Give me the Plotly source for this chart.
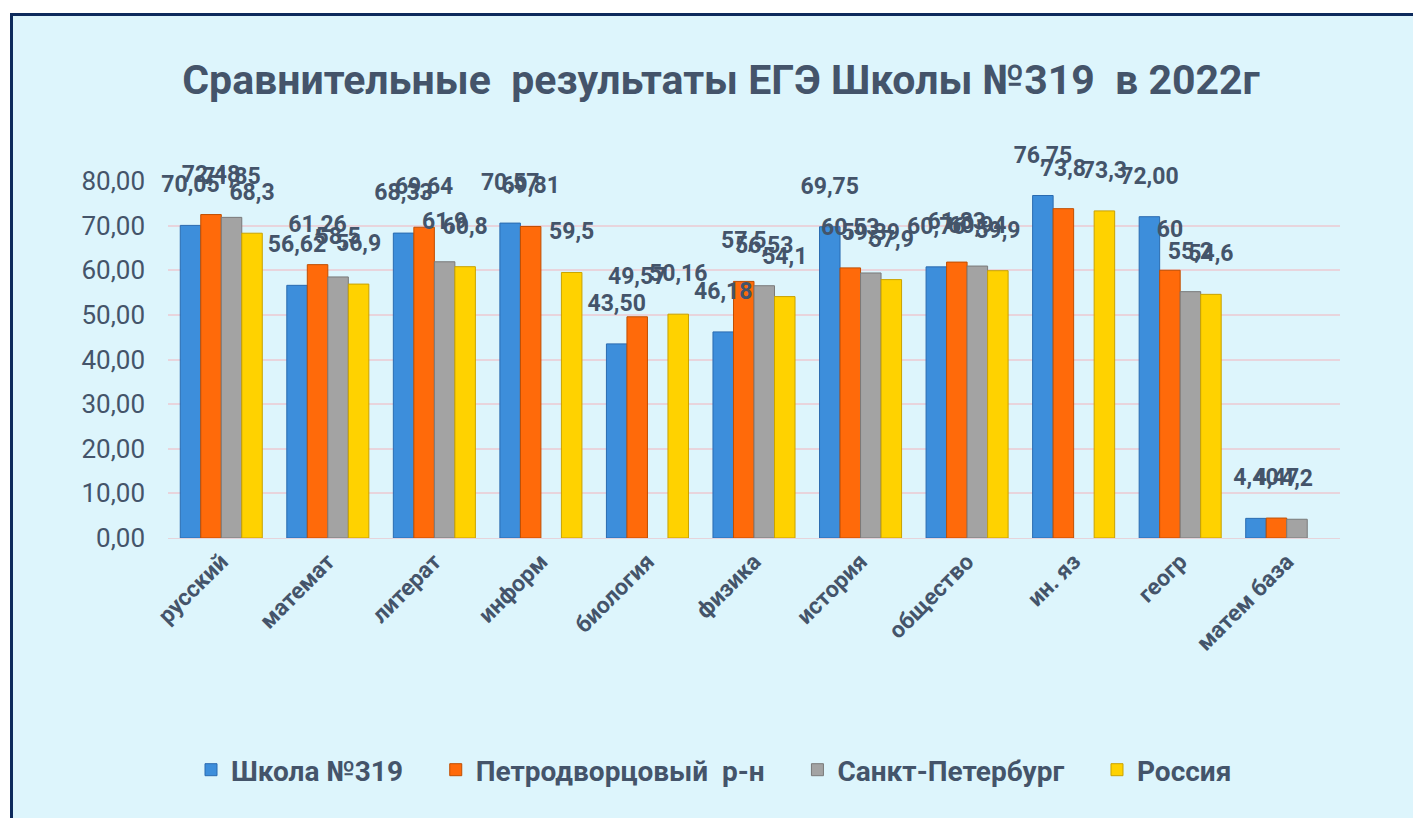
import plotly.graph_objects as go

categories = ["русский", "математ", "литерат", "информ", "биология", "физика",
              "история", "общество", "ин. яз", "геогр", "матем база"]
school = [70.05, 56.62, 68.33, 70.57, 43.50, 46.18, 69.75, 60.76, 76.75, 72.00, 4.40]
district = [72.48, 61.26, 69.64, 69.81, 49.57, 57.50, 60.53, 61.83, 73.8, 60, 4.47]
spb = [71.85, 58.5, 61.9, None, None, 56.53, 59.39, 60.94, None, 55.2, 4.2]
russia = [68.3, 56.9, 60.8, 59.5, 50.16, 54.1, 57.9, 59.9, 73.3, 54.6, None]

series_names = ["Школа №319", "Петродворцовый  р-н", "Санкт-Петербург", "Россия"]
series_values = [school, district, spb, russia]
series_colors = ["#3D8EDB", "#FF6A0A", "#A3A3A3", "#FFD200"]
series_lines = ["#2A6BB0", "#C04E00", "#7A7A7A", "#C9A200"]
series_fmt = ["%{y:.2f}", "%{y:.2~f}", "%{y:.2~f}", "%{y:.2~f}"]

TEXT = "#44546A"
FONT = "Roboto"

# page shows the figure offset by the body margin (8 px)
OFF = 8
W, H = 1421, 818
ml = 168 - OFF
mt = 181 - OFF
mr = W - (1340 - OFF)
mb = H - (538 - OFF)
pw = W - ml - mr
ph = H - mt - mb

def px_x(x):
    return (x - OFF - ml) / pw

def px_y(y):
    return (H - mb - (y - OFF)) / ph

fig = go.Figure()
for i, (name, vals, col, lc) in enumerate(zip(series_names, series_values, series_colors, series_lines)):
    fig.add_trace(go.Bar(
        x=categories, y=vals, name="<b>" + name + "</b>    ",
        marker=dict(color=col, line=dict(color=lc, width=1)),
        offsetgroup=str(i), legendgroup=str(i),
    ))
for i, (name, vals, fmt) in enumerate(zip(series_names, series_values, series_fmt)):
    fig.add_trace(go.Scatter(
        x=categories, y=vals, mode="markers+text", name=name,
        marker=dict(size=42, opacity=0, color="rgba(0,0,0,0)"),
        texttemplate="<b>" + fmt + "</b>", textposition="top center",
        textfont=dict(family=FONT, size=23, color=TEXT),
        offsetgroup=str(i), legendgroup=str(i), showlegend=False,
        cliponaxis=False, hoverinfo="skip",
    ))

fig.add_shape(type="rect", xref="paper", yref="paper", layer="below",
              x0=px_x(11.5), x1=px_x(1440), y0=px_y(840), y1=px_y(14.5),
              fillcolor="#DDF5FC", line=dict(color="#0D2A5C", width=3))

fig.update_layout(
    width=W, height=H,
    margin=dict(l=ml, r=mr, t=mt, b=mb, autoexpand=False),
    paper_bgcolor="white", plot_bgcolor="rgba(0,0,0,0)",
    separators=", ",
    barmode="group", bargap=0.23, bargroupgap=0.0,
    scattermode="group", scattergap=0.23,
    title=dict(text="<b>Сравнительные  результаты ЕГЭ Школы №319  в 2022г</b>",
               x=px_x(721), xanchor="center", xref="paper",
               y=1 - (80 - OFF) / H, yanchor="middle",
               font=dict(family=FONT, size=41, color=TEXT)),
    font=dict(family=FONT, color=TEXT),
    xaxis=dict(tickangle=-45, tickfont=dict(family=FONT, size=23, color=TEXT),
               showgrid=False, showline=True, linecolor="#E6D3DA", linewidth=1,
               ticks="", automargin=False,
               tickvals=categories, ticktext=["<b>" + c + "</b>" for c in categories]),
    yaxis=dict(range=[0, 80], dtick=10, tickformat=".2f",
               tickfont=dict(family=FONT, size=26, color=TEXT),
               gridcolor="#E8D4DC", gridwidth=1.5, zeroline=False, showline=False,
               ticklabelstandoff=22, automargin=False),
    legend=dict(orientation="h", x=px_x(728), xanchor="center", y=px_y(770), yanchor="middle",
                font=dict(family=FONT, size=28, color=TEXT), bgcolor="rgba(0,0,0,0)",
                itemwidth=30, traceorder="normal"),
)

fig.write_html("out.html")
